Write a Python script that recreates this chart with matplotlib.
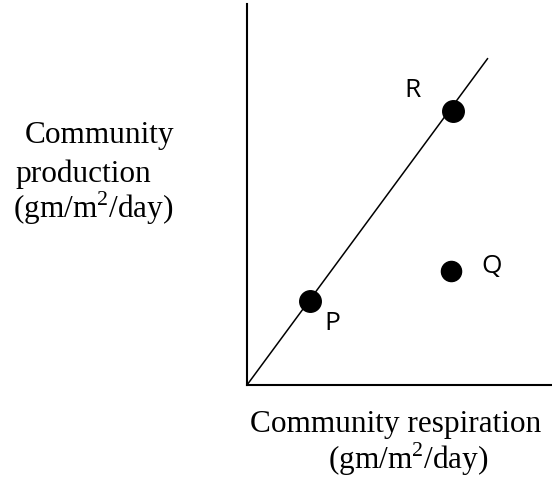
import matplotlib.pyplot as plt

plt.rcParams['mathtext.fontset'] = 'custom'
plt.rcParams['mathtext.rm'] = 'Liberation Serif'

# points on the chart (arbitrary units, axes run 0..10)
point_names = ["P", "R", "Q"]
respiration = [2.07, 6.75, 6.69]
production = [2.20, 7.19, 2.99]
marker_sizes = [15.5, 15.5, 14.5]

# the diagonal line through the origin
line_x = [0, 7.9]
line_y = [0, 8.58]

W, H = 552, 489
fig = plt.figure(figsize=(W / 100, H / 100), dpi=100)
ax = fig.add_axes([247 / W, 1 - 386 / H, (W - 247) / W, (386 - 5) / H])
ax.set_xlim(0, 10)
ax.set_ylim(0, 10)

for side in ['top', 'right']:
    ax.spines[side].set_visible(False)
for side in ['left', 'bottom']:
    ax.spines[side].set_linewidth(1.5)
ax.set_xticks([])
ax.set_yticks([])

ax.plot(line_x, line_y, color='black', linewidth=1.1, solid_capstyle='butt')
for x, y, ms in zip(respiration, production, marker_sizes):
    ax.plot(x, y, 'o', color='black', markersize=ms)

# point labels, offset in pixels from each dot
label_offsets = {"P": (22, -21), "R": (-40, 22), "Q": (41, 6)}
sans = {'family': ['Open Sans', 'DejaVu Sans'], 'size': 19}
for name, x, y in zip(point_names, respiration, production):
    dx, dy = label_offsets[name]
    ax.annotate(name, (x, y), xytext=(dx * 0.72, dy * 0.72),
                textcoords='offset points', ha='center', va='center',
                **sans)

serif = {'family': 'Liberation Serif', 'size': 22.5}


def fig_text(px, py, s):
    fig.text(px / W, 1 - py / H, s, ha='left', va='baseline', fontdict=serif)


unit = r"(gm/m$^{\mathrm{2}}$/day)"
fig_text(25, 143, "Community")
fig_text(15, 182, "production")
fig_text(13, 218, unit)
fig_text(250, 432, "Community respiration")
fig_text(328, 469, unit)

fig.savefig('out.png', dpi=100)
